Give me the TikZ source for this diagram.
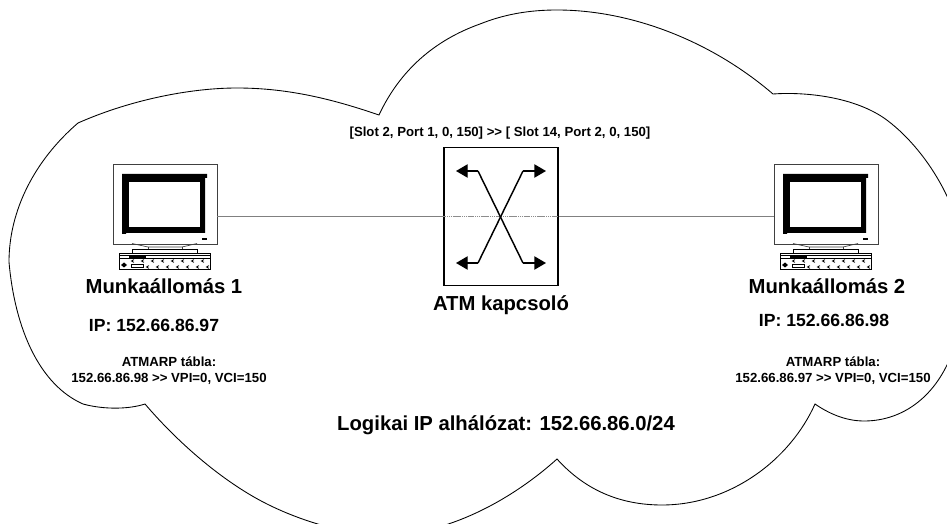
\documentclass[tikz,border=0pt]{standalone}
\usepackage{fontspec}
\setmainfont{Liberation Sans}
\usetikzlibrary{arrows.meta}
\tikzset{
	nagy/.style = {inner sep = 0pt, font = \fontsize{15.2}{18}\selectfont\bfseries},
	kozep/.style = {inner sep = 0pt, font = \fontsize{13.2}{16}\selectfont\bfseries},
	kicsi/.style = {inner sep = 0pt, align = center, font = \fontsize{9.9}{12}\selectfont\bfseries},
	monitorbox/.style = {draw = black!75, line width = 0.6pt, minimum width = 78pt, minimum height = 60pt, inner sep = 0pt},
	kapcsolo/.style = {draw, line width = 1.1pt, minimum width = 85.5pt, minimum height = 103.5pt, inner sep = 0pt},
	vonal/.style = {draw = black!50, line width = 1.2pt},
	nyil/.style = {line width = 1.1pt, -{Triangle[length = 8.8pt, width = 10pt]}}
}
\begin{document}
\begin{tikzpicture}[x = 0.75pt, y = -0.75pt]
	\useasboundingbox (0,0) rectangle (947,524);
	\clip (0,0) rectangle (947,524);
	% felho
	\draw[line width = 0.65pt] (78,123) .. controls (130,100) and (190,88) .. (237,88)
		.. controls (290,88) and (335,100) .. (379,115)
		.. controls (400,70) and (435,40) .. (480,24)
		.. controls (505,14) and (530,10) .. (557,10)
		.. controls (630,10) and (710,40) .. (773,94)
		.. controls (800,92) and (850,95) .. (884,118)
		.. controls (925,147) and (965,210) .. (965,270)
		.. controls (965,310) and (955,350) .. (947,365)
		.. controls (930,400) and (900,421) .. (864,421)
		.. controls (845,421) and (828,413) .. (815,404)
		.. controls (790,460) and (730,505) .. (662,505)
		.. controls (620,505) and (585,490) .. (557,459)
		.. controls (515,497) and (450,535) .. (385,535)
		.. controls (350,535) and (305,523) .. (267,504)
		.. controls (225,483) and (180,445) .. (145,404)
		.. controls (130,409) and (105,410) .. (83,404)
		.. controls (40,385) and (15,330) .. (9,262)
		.. controls (9,210) and (35,160) .. (78,123) -- cycle;
	% gepek
	\foreach \mon/\mx in {mon1/113,mon2/774} {
		\begin{scope}[shift = {(\mx,164)}]
			\node (\mon) at (52,40) [monitorbox] {};
			\fill (9,10) -- (94,10) -- (94,14) -- (92,14) -- (92,69) -- (13,69) -- (13,70) -- (9,70) -- cycle;
			\fill[white] (16,18) rectangle (87,63);
			\fill (89,74) rectangle (94,76);
			\draw[black!75, line width = 0.5pt] (19,79.5) -- (35,83) -- (69,83) -- (84,79.5);
			\draw[black!75, line width = 0.5pt] (35,83) -- (35,85) (69,83) -- (69,85);
			\draw[line width = 0.5pt] (19,85) rectangle (84,89);
			\draw[line width = 0.5pt] (6,89) rectangle (97,105);
			\draw[line width = 0.4pt] (6,91.5) -- (97,91.5) (6,94) -- (97,94);
			\fill (16,91.5) rectangle (33,94);
			\fill (11,98.5) -- (14,101) -- (11,103.5) -- (8,101) -- cycle;
			\draw[line width = 0.5pt] (18,100) rectangle (30,103);
			\foreach \i in {0,...,7} {
				\draw[line width = 0.6pt] (21,95.6) ++(10*\i,0) -- ++(-2.5,1.4) -- ++(2.5,1.4);
			}
			\foreach \i in {0,...,6} {
				\draw[line width = 0.6pt] (36,101.6) ++(10*\i,0) -- ++(-2.5,1.4) -- ++(2.5,1.4);
			}
		\end{scope}
	}
	% kapcsolo
	\node (atm) at (501,216.5) [kapcsolo] {};
	\draw[vonal] (mon1.east |- atm.west) -- (atm.west);
	\draw[vonal] (atm.east) -- (mon2.west |- atm.east);
	\draw[black!45, line width = 1.2pt, dash pattern = on 1pt off 0.4pt] (atm.west) -- (atm.east);
	\coordinate (bf) at (478,171);
	\coordinate (jf) at (523,171);
	\coordinate (ba) at (478,263);
	\coordinate (ja) at (523,263);
	\coordinate (bfv) at (456,171);
	\coordinate (jfv) at (546,171);
	\coordinate (bav) at (456,263);
	\coordinate (jav) at (546,263);
	\draw[line width = 1.1pt] (bf) -- (ja);
	\draw[line width = 1.1pt] (ba) -- (jf);
	\draw[nyil] (bf) -- (bfv);
	\draw[nyil] (jf) -- (jfv);
	\draw[nyil] (ba) -- (bav);
	\draw[nyil] (ja) -- (jav);
	% szovegek
	\node (kapcs) at (500,133) [kicsi] {[Slot 2, Port 1, 0, 150] >{}> [ Slot 14, Port 2, 0, 150]};
	\node (nev1) at (164,286) [nagy] {Munkaállomás 1};
	\node (nev2) at (827,286) [nagy] {Munkaállomás 2};
	\node (nevatm) at (501,305) [nagy] {ATM kapcsoló};
	\node (ip1) at (154,325) [kozep] {IP: 152.66.86.97};
	\node (ip2) at (824,320) [kozep] {IP: 152.66.86.98};
	\node (tabla1) at (169,371) [kicsi] {ATMARP tábla:\\152.66.86.98 >{}> VPI=0, VCI=150};
	\node (tabla2) at (833,371) [kicsi] {ATMARP tábla:\\152.66.86.97 >{}> VPI=0, VCI=150};
	\node (halo) at (506,425) [nagy] {Logikai IP alhálózat: 152.66.86.0/24};
\end{tikzpicture}
\end{document}
